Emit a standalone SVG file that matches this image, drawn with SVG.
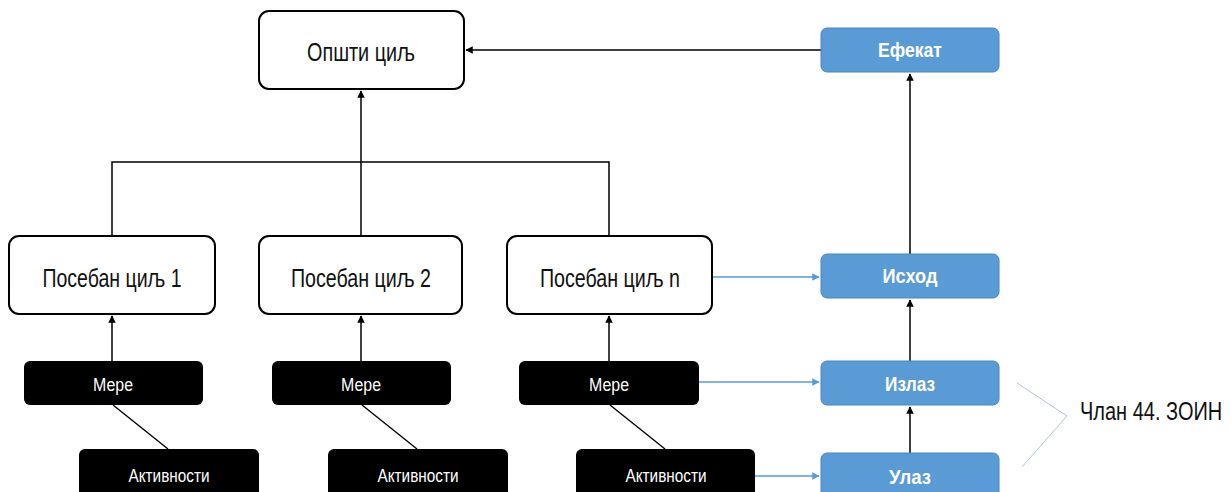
<svg xmlns="http://www.w3.org/2000/svg" width="1231" height="492" viewBox="0 0 1231 492">
<defs>
<marker id="ab" viewBox="0 0 10 10" refX="9" refY="5" markerWidth="5" markerHeight="5" orient="auto"><path d="M0,0 L10,5 L0,10 z" fill="#000"/></marker>
<marker id="abl" viewBox="0 0 10 10" refX="9" refY="5" markerWidth="5" markerHeight="5" orient="auto"><path d="M0,0 L10,5 L0,10 z" fill="#5B9BD5"/></marker>
<style>
.w{fill:#fff;stroke:#000;stroke-width:2}
.k{fill:#000;stroke:none}
.b{fill:#5B9BD5;stroke:#4A86BE;stroke-width:1}
.t{font-family:"Liberation Sans",Arial,sans-serif;text-anchor:middle;fill:#111}
.tw{font-family:"Liberation Sans",Arial,sans-serif;text-anchor:middle;fill:#fff}
.tb{font-family:"Liberation Sans",Arial,sans-serif;text-anchor:middle;fill:#fff;font-weight:bold}
.c{fill:none;stroke:#000;stroke-width:1.5}
.cb{fill:none;stroke:#5B9BD5;stroke-width:1.5}
</style>
</defs>
<rect width="1231" height="492" fill="#fff"/>
<g id="connectors">
<path class="c" d="M821,50 H466" marker-end="url(#ab)"/>
<path class="c" d="M361,162 V91" marker-end="url(#ab)"/>
<path class="c" d="M112,236 V162 H609 V236"/>
<path class="c" d="M361,162 V236"/>
<path class="c" d="M910,254 V74" marker-end="url(#ab)"/>
<path class="c" d="M910,361 V300" marker-end="url(#ab)"/>
<path class="c" d="M910,453 V407" marker-end="url(#ab)"/>
<path class="c" d="M112,361 V316" marker-end="url(#ab)"/>
<path class="c" d="M361,361 V316" marker-end="url(#ab)"/>
<path class="c" d="M609,361 V316" marker-end="url(#ab)"/>
<path class="c" d="M113,405 L168,449"/>
<path class="c" d="M362,405 L417,449"/>
<path class="c" d="M610,405 L665,449"/>
<path class="cb" d="M712,277 H819" marker-end="url(#abl)"/>
<path class="cb" d="M699,382 H819" marker-end="url(#abl)"/>
<path class="cb" d="M755,476 H819" marker-end="url(#abl)"/>
<path d="M1017,383 L1067,416 L1022,467" fill="none" stroke="#B4C4D8" stroke-width="1"/>
</g>
<g id="opsti"><rect class="w" x="259" y="11" width="205" height="78" rx="10"/><text class="t" x="361" y="61" font-size="25" textLength="108" lengthAdjust="spacingAndGlyphs">Општи циљ</text></g>
<g id="efekat"><rect class="b" x="821" y="28" width="178" height="44" rx="6"/><text class="tb" x="910" y="57" font-size="20" textLength="64" lengthAdjust="spacingAndGlyphs">Ефекат</text></g>
<g id="poseban1"><rect class="w" x="9" y="236" width="206" height="78" rx="10"/><text class="t" x="112" y="287" font-size="26" textLength="139" lengthAdjust="spacingAndGlyphs">Посебан циљ 1</text></g>
<g id="poseban2"><rect class="w" x="259" y="236" width="203" height="78" rx="10"/><text class="t" x="361" y="287" font-size="26" textLength="140" lengthAdjust="spacingAndGlyphs">Посебан циљ 2</text></g>
<g id="posebann"><rect class="w" x="507" y="236" width="205" height="78" rx="10"/><text class="t" x="610" y="287" font-size="26" textLength="140" lengthAdjust="spacingAndGlyphs">Посебан циљ n</text></g>
<g id="ishod"><rect class="b" x="821" y="254" width="178" height="44" rx="6"/><text class="tb" x="910" y="283" font-size="20" textLength="55" lengthAdjust="spacingAndGlyphs">Исход</text></g>
<g id="mere1"><rect class="k" x="24" y="361" width="179" height="44" rx="6"/><text class="tw" x="113" y="391" font-size="18" textLength="40" lengthAdjust="spacingAndGlyphs">Мере</text></g>
<g id="mere2"><rect class="k" x="272" y="361" width="179" height="44" rx="6"/><text class="tw" x="361" y="391" font-size="18" textLength="40" lengthAdjust="spacingAndGlyphs">Мере</text></g>
<g id="mere3"><rect class="k" x="519" y="361" width="180" height="44" rx="6"/><text class="tw" x="609" y="391" font-size="18" textLength="40" lengthAdjust="spacingAndGlyphs">Мере</text></g>
<g id="izlaz"><rect class="b" x="821" y="361" width="178" height="44" rx="6"/><text class="tb" x="910" y="391" font-size="20" textLength="50" lengthAdjust="spacingAndGlyphs">Излаз</text></g>
<g id="akt1"><rect class="k" x="79" y="449" width="180" height="50" rx="6"/><text class="tw" x="169" y="482" font-size="18" textLength="81" lengthAdjust="spacingAndGlyphs">Активности</text></g>
<g id="akt2"><rect class="k" x="328" y="449" width="180" height="50" rx="6"/><text class="tw" x="418" y="482" font-size="18" textLength="81" lengthAdjust="spacingAndGlyphs">Активности</text></g>
<g id="akt3"><rect class="k" x="576" y="449" width="179" height="50" rx="6"/><text class="tw" x="666" y="482" font-size="18" textLength="81" lengthAdjust="spacingAndGlyphs">Активности</text></g>
<g id="ulaz"><rect class="b" x="821" y="453" width="178" height="50" rx="6"/><text class="tb" x="910" y="484" font-size="20" textLength="42" lengthAdjust="spacingAndGlyphs">Улаз</text></g>
<g id="clan"><text font-family="Liberation Sans, Arial, sans-serif" fill="#111" font-size="25" transform="translate(1080,420) scale(0.8,1)">Члан 44. ЗОИН</text></g>
</svg>
